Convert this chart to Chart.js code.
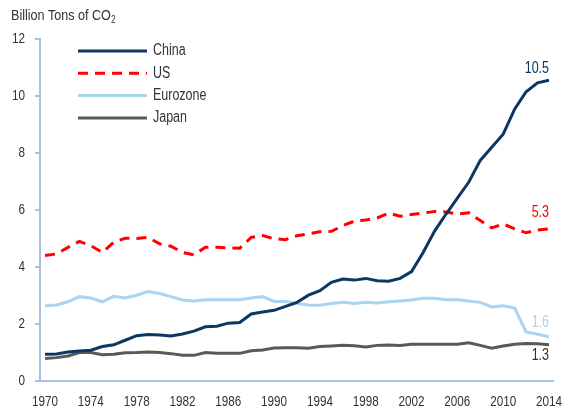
<!DOCTYPE html>
<html>
<head>
<meta charset="utf-8">
<script src="https://cdn.jsdelivr.net/npm/chart.js@4.4.1/dist/chart.umd.min.js"></script>
<style>
    html, body { margin: 0; padding: 0; background: #ffffff; }
    .wrap { position: relative; width: 563px; height: 410px; }
    .unit {
        position: absolute; left: 11px; top: 6px;
        font: 15px 'Liberation Sans', Arial, sans-serif;
        color: #333333; white-space: nowrap;
        transform: scaleX(0.84); transform-origin: left top;
    }
    .unit sub { font-size: 10px; vertical-align: -3px; line-height: 0; }
</style>
</head>
<body>
<div class="wrap">
    <canvas id="co2Chart" width="563" height="410"></canvas>
    <div class="unit">Billion Tons of CO<sub>2</sub></div>
</div>
<script>
const years = [
    1970, 1971, 1972, 1973, 1974, 1975, 1976, 1977, 1978, 1979,
    1980, 1981, 1982, 1983, 1984, 1985, 1986, 1987, 1988, 1989,
    1990, 1991, 1992, 1993, 1994, 1995, 1996, 1997, 1998, 1999,
    2000, 2001, 2002, 2003, 2004, 2005, 2006, 2007, 2008, 2009,
    2010, 2011, 2012, 2013, 2014
];

const china = [
    0.94, 0.95, 1.02, 1.05, 1.08, 1.21, 1.27, 1.43, 1.59, 1.63,
    1.61, 1.58, 1.65, 1.75, 1.90, 1.92, 2.03, 2.05, 2.35, 2.42,
    2.48, 2.62, 2.76, 3.01, 3.17, 3.46, 3.58, 3.54, 3.60, 3.52,
    3.50, 3.60, 3.84, 4.50, 5.25, 5.85, 6.42, 6.98, 7.74, 8.20,
    8.66, 9.54, 10.15, 10.46, 10.55
];

const us = [
    4.40, 4.46, 4.69, 4.90, 4.75, 4.51, 4.87, 5.01, 5.00, 5.04,
    4.81, 4.73, 4.51, 4.43, 4.69, 4.69, 4.67, 4.66, 5.04, 5.10,
    4.99, 4.96, 5.10, 5.16, 5.24, 5.25, 5.45, 5.61, 5.65, 5.72,
    5.89, 5.78, 5.84, 5.89, 5.95, 5.93, 5.86, 5.90, 5.63, 5.37,
    5.51, 5.34, 5.20, 5.30, 5.34
];

const eurozone = [
    2.64, 2.67, 2.78, 2.96, 2.91, 2.78, 2.97, 2.91, 3.01, 3.14,
    3.07, 2.96, 2.84, 2.81, 2.85, 2.85, 2.85, 2.85, 2.91, 2.96,
    2.79, 2.79, 2.72, 2.67, 2.66, 2.72, 2.76, 2.72, 2.76, 2.74,
    2.78, 2.81, 2.84, 2.90, 2.90, 2.85, 2.85, 2.81, 2.76, 2.60,
    2.64, 2.56, 1.72, 1.64, 1.55
];

const japan = [
    0.79, 0.82, 0.88, 1.00, 1.00, 0.92, 0.94, 0.99, 1.00, 1.02,
    1.00, 0.96, 0.90, 0.90, 1.00, 0.97, 0.97, 0.97, 1.06, 1.09,
    1.16, 1.17, 1.17, 1.15, 1.21, 1.23, 1.25, 1.24, 1.19, 1.25,
    1.26, 1.25, 1.29, 1.29, 1.29, 1.29, 1.29, 1.34, 1.25, 1.15,
    1.23, 1.29, 1.32, 1.31, 1.27
];

const seriesNames = ['China', 'US', 'Eurozone', 'Japan'];
const endLabels   = ['10.5', '5.3', '1.6', '1.3'];
const xTicks      = [1970, 1974, 1978, 1982, 1986, 1990, 1994, 1998, 2002, 2006, 2010, 2014];
const yTicks      = [0, 2, 4, 6, 8, 10, 12];

const FONT      = "'Liberation Sans', Arial, sans-serif";
const axisColor = '#a7c1e3';
const textColor = '#333333';

const colors   = ['#0c3763', '#ff0000', '#a9d4f2', '#58595b'];
const dashes   = [[], [10, 7], [], []];
const labelDy  = [-12, -16, -14, 11];

const toPoints = (vals) => vals.map((v, i) => ({ x: years[i], y: v }));

//end-of-line value labels
const endLabelPlugin = {
    id: 'endLabels',
    afterDatasetsDraw(chart) {
        const ctx = chart.ctx;
        ctx.save();
        ctx.font = `16px ${FONT}`;
        ctx.textAlign = 'right';
        ctx.textBaseline = 'middle';
        chart.data.datasets.forEach((ds, i) => {
            const pts = chart.getDatasetMeta(i).data;
            const last = pts[pts.length - 1];
            ctx.fillStyle = i === 3 ? textColor : ds.borderColor;
            ctx.fillText(endLabels[i], last.x, last.y + labelDy[i]);
        });
        ctx.restore();
    }
};

//legend drawn inside the plot, top-left
const insideLegendPlugin = {
    id: 'insideLegend',
    afterDraw(chart) {
        const ctx = chart.ctx;
        const area = chart.chartArea;
        const x0 = area.left + 38;
        const x1 = area.left + 107;
        ctx.save();
        ctx.font = `16px ${FONT}`;
        ctx.textBaseline = 'middle';
        chart.data.datasets.forEach((ds, i) => {
            const y = area.top + 12 + i * 22.3;
            ctx.strokeStyle = ds.borderColor;
            ctx.lineWidth = 3;
            ctx.setLineDash(ds.borderDash || []);
            ctx.beginPath();
            ctx.moveTo(x0, y);
            ctx.lineTo(x1, y);
            ctx.stroke();
            ctx.fillStyle = textColor;
            ctx.fillText(ds.label, x1 + 6, y);
        });
        ctx.restore();
    }
};

const datasets = [china, us, eurozone, japan].map((vals, i) => ({
    label: seriesNames[i],
    data: toPoints(vals),
    borderColor: colors[i],
    borderWidth: 3,
    borderDash: dashes[i],
    pointRadius: 0,
    tension: 0,
    fill: false
}));

const ctx = document.getElementById('co2Chart').getContext('2d');

// the original uses a narrow face; squeeze every canvas label horizontally
const rawFillText = ctx.fillText;
ctx.fillText = function (text, x, y, maxWidth) {
    const w = this.measureText(text).width * 0.78;
    return rawFillText.call(this, text, x, y, maxWidth === undefined ? w : Math.min(w, maxWidth));
};

const co2Chart = new Chart(ctx, {
    type: 'line',
    data: { datasets: datasets },
    plugins: [endLabelPlugin, insideLegendPlugin],
    options: {
        responsive: false,
        animation: false,
        layout: { padding: { top: 39, right: 10, left: 0, bottom: 0 } },
        plugins: {
            legend: { display: false },
            tooltip: { enabled: false }
        },
        scales: {
            x: {
                type: 'linear',
                min: 1969.56,
                max: 2014.35,
                afterBuildTicks: (scale) => { scale.ticks = xTicks.map(v => ({ value: v })); },
                afterFit: (scale) => {
                    scale.height = 29;
                    scale.paddingLeft = 0;
                    scale.paddingRight = 0;
                },
                ticks: {
                    color: textColor,
                    font: { family: FONT, size: 15 },
                    padding: 4,
                    maxRotation: 0,
                    autoSkip: false,
                    callback: (v) => String(v)
                },
                grid: { display: false },
                border: { display: true, color: axisColor, width: 2 }
            },
            y: {
                min: 0,
                max: 12,
                afterBuildTicks: (scale) => { scale.ticks = yTicks.map(v => ({ value: v })); },
                afterFit: (scale) => {
                    scale.width = 40;
                    scale.paddingTop = 0;
                    scale.paddingBottom = 0;
                },
                ticks: {
                    color: textColor,
                    font: { family: FONT, size: 15 },
                    padding: 10
                },
                grid: {
                    display: true,
                    drawOnChartArea: false,
                    drawTicks: true,
                    tickLength: 5,
                    color: axisColor,
                    lineWidth: 2
                },
                border: { display: true, color: axisColor, width: 2 }
            }
        }
    }
});
</script>
</body>
</html>
